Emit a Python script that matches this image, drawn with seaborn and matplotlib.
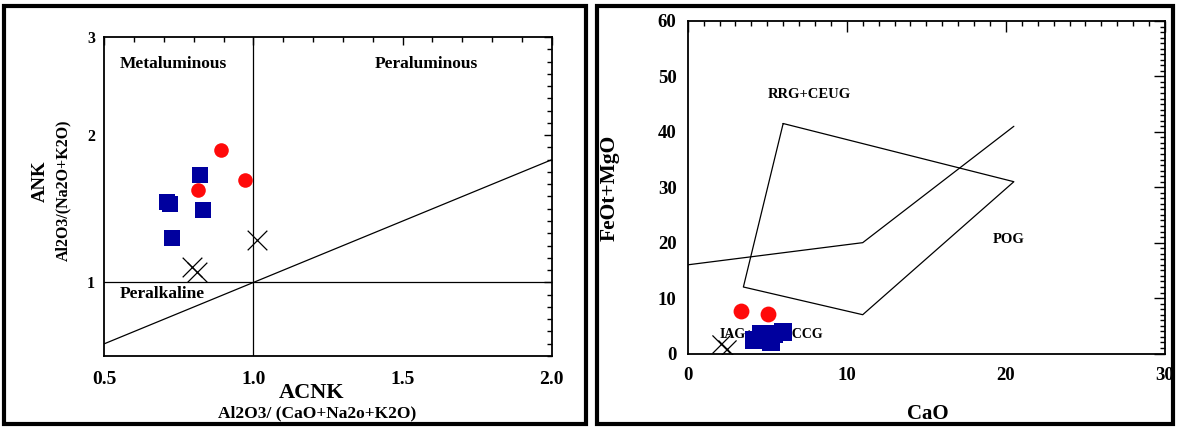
import numpy as np
import pandas as pd
import matplotlib
matplotlib.use("Agg")
import matplotlib.pyplot as plt
from matplotlib.patches import Rectangle
from matplotlib.ticker import FixedLocator, NullFormatter
import seaborn as sns

# ---------------- data ----------------
# Left panel: Shand index (A/NK vs A/CNK)
left_blue_acnk = [0.822, 0.709, 0.720, 0.830, 0.728]
left_blue_ank = [1.731, 1.545, 1.534, 1.489, 1.304]
left_red_acnk = [0.890, 0.973, 0.814]
left_red_ank = [1.896, 1.697, 1.625]
left_cross_acnk = [0.793, 0.812, 1.011]
left_cross_ank = [1.105, 1.071, 1.286]
left_diag_x = [0.5, 2.0]
left_diag_y = [0.583, 1.833]
left_xticks = [0.5, 1.0, 1.5, 2.0]
left_xticklabels = ["0.5", "1.0", "1.5", "2.0"]
left_yticks = [1, 2, 3]
left_yticklabels = ["1", "2", "3"]

# Right panel: CaO vs FeOt+MgO
right_blue_cao = [4.19, 4.60, 5.24, 5.45, 5.97]
right_blue_fm = [2.4, 3.6, 2.1, 3.6, 3.9]
right_red_cao = [3.35, 5.03]
right_red_fm = [7.6, 7.1]
right_cross_cao = [2.1, 2.5]
right_cross_fm = [1.75, 0.8]
rrg_x = [6.0, 20.5, 11.0, 3.5, 6.0]
rrg_y = [41.5, 31.0, 7.0, 12.0, 41.5]
pog_x = [0.0, 11.0, 20.5]
pog_y = [16.0, 20.0, 41.0]
right_xticks = [0, 10, 20, 30]
right_yticks = [0, 10, 20, 30, 40, 50, 60]

RED = "#ff0a0a"
BLUE = "#00009e"

sns.set_theme(style="white")
plt.rcParams["font.family"] = ["Liberation Serif", "DejaVu Serif"]
plt.rcParams["font.weight"] = "bold"
plt.rcParams["text.color"] = "black"
plt.rcParams["axes.labelcolor"] = "black"
plt.rcParams["xtick.color"] = "black"
plt.rcParams["ytick.color"] = "black"
plt.rcParams["xtick.labelcolor"] = "black"
plt.rcParams["ytick.labelcolor"] = "black"

fig = plt.figure(figsize=(11.77, 4.28), dpi=100)

# panel frames
fig.patches.append(Rectangle((4 / 1177, 4 / 428), 582 / 1177, 418 / 428, transform=fig.transFigure,
                             fill=False, edgecolor="black", linewidth=3.0, zorder=0))
fig.patches.append(Rectangle((597 / 1177, 4 / 428), 576 / 1177, 418 / 428, transform=fig.transFigure,
                             fill=False, edgecolor="black", linewidth=3.0, zorder=0))

# ---------------- left panel ----------------
ax1 = fig.add_axes([104.3 / 1177, 1 - 356 / 428, 447.4 / 1177, 319 / 428])


def fwd(y):
    y = np.asarray(y, dtype=float)
    return np.where(y <= 2, 6 + 12 * (y - 1), 18 + 8 * (y - 2))


def inv(t):
    t = np.asarray(t, dtype=float)
    return np.where(t <= 18, 1 + (t - 6) / 12, 2 + (t - 18) / 8)


ax1.set_yscale("function", functions=(fwd, inv))
ax1.set_xlim(0.5, 2.0)
ax1.set_ylim(0.5, 3.0)

ax1.axvline(1.0, color="black", lw=0.9, zorder=1)
ax1.axhline(1.0, color="black", lw=0.9, zorder=1)
ax1.plot(left_diag_x, left_diag_y, color="black", lw=0.9, zorder=1)

sns.scatterplot(x=left_blue_acnk, y=left_blue_ank, marker="s", s=140, color=BLUE,
                linewidth=0, ax=ax1, zorder=3)
sns.scatterplot(x=left_red_acnk, y=left_red_ank, marker="o", s=110, color=RED,
                linewidth=0, ax=ax1, zorder=3)
sns.scatterplot(x=left_cross_acnk, y=left_cross_ank, marker="x", s=200, color="black",
                linewidth=0.9, ax=ax1, zorder=3)

ax1.set_xticks(left_xticks)
ax1.set_xticklabels(left_xticklabels)
ax1.xaxis.set_minor_locator(FixedLocator(np.arange(0.5, 2.001, 0.1)))
ax1.set_yticks(left_yticks)
ax1.set_yticklabels(left_yticklabels)
ax1.yaxis.set_minor_locator(FixedLocator(inv(np.arange(0, 27))))
ax1.yaxis.set_minor_formatter(NullFormatter())
ax1.tick_params(which="both", direction="in", top=True, right=True, color="black",
                labelcolor="black", width=1.0)
ax1.tick_params(which="major", length=6)
ax1.tick_params(which="minor", length=3.5)
ax1.tick_params(axis="x", which="major", labelsize=14, pad=11)
ax1.tick_params(axis="y", which="major", labelsize=11.5, pad=6.5)
for sp in ax1.spines.values():
    sp.set_color("black")
    sp.set_linewidth(1.3)

ax1.text(0.553, 2.73, "Metaluminous", fontsize=12.5, fontweight="bold", va="center", ha="left",
         color="black")
ax1.text(1.408, 2.73, "Peraluminous", fontsize=12.5, fontweight="bold", va="center", ha="left",
         color="black")
ax1.text(0.553, 0.92, "Peralkaline", fontsize=12.5, fontweight="bold", va="center", ha="left",
         color="black")

fig.text(312 / 1177, 1 - 393 / 428, "ACNK", fontsize=16, fontweight="bold", ha="center", va="center",
         color="black")
fig.text(317 / 1177, 1 - 413 / 428, "Al2O3/ (CaO+Na2o+K2O)", fontsize=12.5, fontweight="bold",
         ha="center", va="center", color="black")
fig.text(40 / 1177, 1 - 181 / 428, "ANK", fontsize=13.5, fontweight="bold", rotation=90,
         ha="center", va="center", color="black")
fig.text(63 / 1177, 1 - 190 / 428, "Al2O3/(Na2O+K2O)", fontsize=11.5, fontweight="bold", rotation=90,
         ha="center", va="center", color="black")

# ---------------- right panel ----------------
ax2 = fig.add_axes([687.7 / 1177, 1 - 353.5 / 428, 477.3 / 1177, 332.5 / 428])
ax2.set_xlim(0, 30)
ax2.set_ylim(0, 60)

ax2.plot(rrg_x, rrg_y, color="black", lw=0.9, zorder=1)
ax2.plot(pog_x, pog_y, color="black", lw=0.9, zorder=1)

ax2.text(5.05, 46.7, "RRG+CEUG", fontsize=10.5, fontweight="bold", ha="left", va="center", color="black")
ax2.text(19.2, 20.5, "POG", fontsize=10.5, fontweight="bold", ha="left", va="center", color="black")
ax2.text(2.03, 3.5, "IAG+CAG+CCG", fontsize=10, fontweight="bold", ha="left", va="center", zorder=2,
         color="black")

sns.scatterplot(x=right_blue_cao, y=right_blue_fm, marker="s", s=160, color=BLUE,
                linewidth=0, ax=ax2, zorder=3)
sns.scatterplot(x=right_red_cao, y=right_red_fm, marker="o", s=130, color=RED,
                linewidth=0, ax=ax2, zorder=3)
sns.scatterplot(x=right_cross_cao, y=right_cross_fm, marker="x", s=170, color="black",
                linewidth=0.9, ax=ax2, zorder=3)

ax2.set_xticks(right_xticks)
ax2.set_yticks(right_yticks)
ax2.xaxis.set_minor_locator(FixedLocator(np.arange(0, 31, 1)))
ax2.yaxis.set_minor_locator(FixedLocator(np.arange(0, 61, 1)))
ax2.tick_params(which="both", direction="in", top=True, right=True, color="black",
                labelcolor="black", width=1.0)
ax2.tick_params(which="major", length=8)
ax2.tick_params(which="minor", length=3.5)
ax2.tick_params(axis="x", which="major", labelsize=13.5, pad=9.5)
ax2.tick_params(axis="y", which="major", labelsize=13.5, pad=8)
for sp in ax2.spines.values():
    sp.set_color("black")
    sp.set_linewidth(1.3)

fig.text(928 / 1177, 1 - 414 / 428, "CaO", fontsize=15, fontweight="bold", ha="center", va="center",
         color="black")
fig.text(610 / 1177, 1 - 188 / 428, "FeOt+MgO", fontsize=15.5, fontweight="bold", rotation=90,
         ha="center", va="center", color="black")

fig.savefig("out.png", dpi=100, facecolor="white")
